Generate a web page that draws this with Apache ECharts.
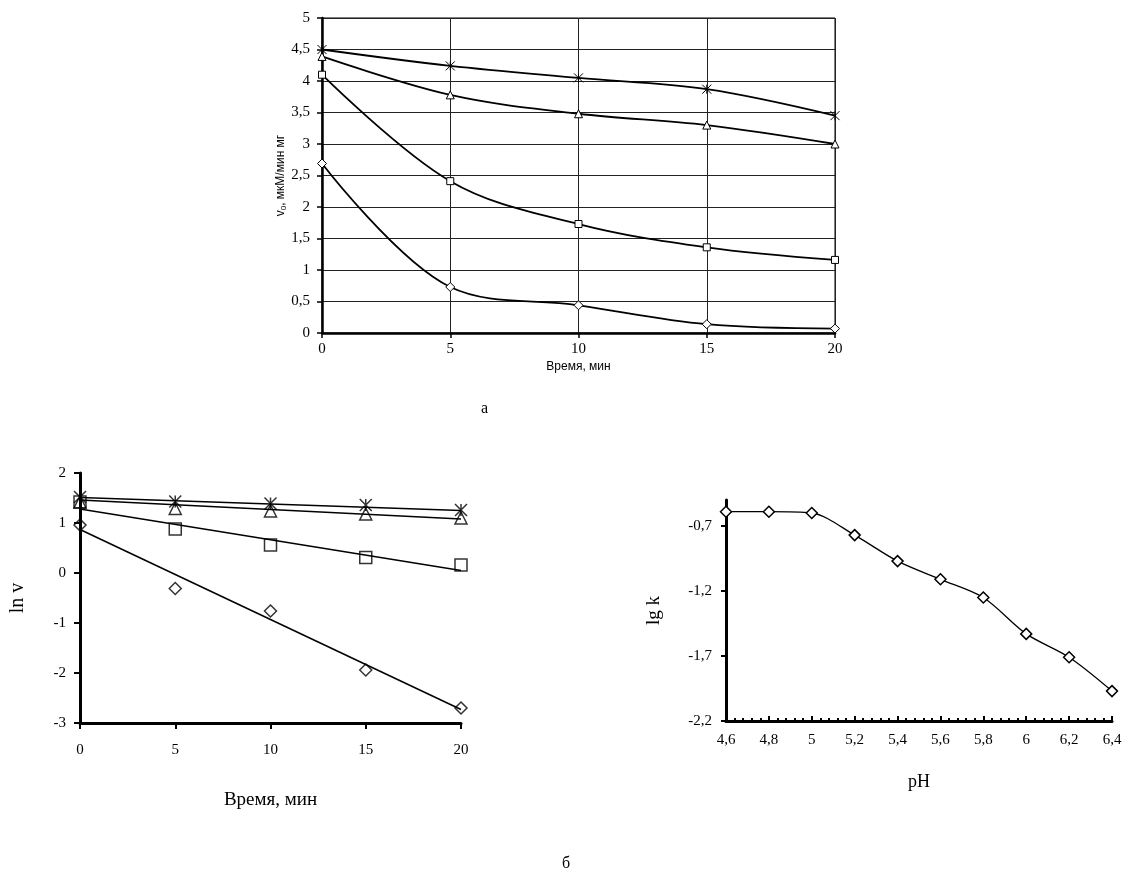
<!DOCTYPE html>
<html>
<head>
<meta charset="utf-8">
<script src="https://cdn.jsdelivr.net/npm/echarts@6/dist/echarts.min.js"></script>
<style>
  html, body { margin: 0; padding: 0; background: #fff; }
  #chart { width: 1127px; height: 875px; }
</style>
</head>
<body>
<div id="chart"></div>
<script>
// время, мин
const timeMin = [0, 5, 10, 15, 20]

// (а) v0 vs time, four curves
const v0Star = [4.5, 4.24, 4.05, 3.87, 3.45]
const v0Tri = [4.39, 3.78, 3.48, 3.3, 3.0]
const v0Sq = [4.1, 2.41, 1.73, 1.36, 1.16]
const v0Dia = [2.69, 0.73, 0.44, 0.14, 0.07]

// (б) ln v points
const lnStar = [1.52, 1.43, 1.39, 1.36, 1.26]
const lnTri = [1.42, 1.29, 1.24, 1.18, 1.1]
const lnSq = [1.42, 0.88, 0.56, 0.31, 0.16]
const lnDia = [0.96, -0.31, -0.76, -1.94, -2.7]
// linear trend lines: value at t=0 and t=20 (star, tri, sq, dia)
const trendStart = [1.51, 1.46, 1.28, 0.87]
const trendEnd = [1.25, 1.08, 0.05, -2.73]

// (б) lg k vs pH
const pH = [4.6, 4.8, 5.0, 5.2, 5.4, 5.6, 5.8, 6.0, 6.2, 6.4]
const lgK = [-0.59, -0.59, -0.6, -0.77, -0.97, -1.11, -1.25, -1.53, -1.71, -1.97]
const lgKTicks = [-2.2, -1.7, -1.2, -0.7]

const SERIF = 'Liberation Serif'
const SANS = 'Liberation Sans'
const STAR = 'path://M0,0L10,10M10,0L0,10M5,0L5,10'

const comma = v => String(Math.round(v * 100) / 100).replace('.', ',')
const pairs = (xs, ys) => xs.map((x, i) => [x, ys[i]])

const tickLabel = { fontFamily: SERIF, fontSize: 15, color: '#000', formatter: comma }

function topLine (data, symbol, size) {
  return {
    type: 'line',
    xAxisIndex: 0,
    yAxisIndex: 0,
    data: pairs(timeMin, data),
    smooth: 0.35,
    symbol,
    symbolSize: size,
    showSymbol: true,
    itemStyle: { color: '#fff', borderColor: '#000', borderWidth: 1 },
    lineStyle: { color: '#000', width: 1.8 },
    z: 3
  }
}

function lnPoints (data, symbol, size) {
  return {
    type: 'scatter',
    xAxisIndex: 1,
    yAxisIndex: 1,
    data: pairs(timeMin, data),
    symbol,
    symbolSize: size,
    itemStyle: { color: 'rgba(255,255,255,0)', borderColor: '#000', borderWidth: 1.5 },
    z: 4
  }
}

function lnTrend (i) {
  return {
    type: 'line',
    xAxisIndex: 1,
    yAxisIndex: 1,
    data: [[timeMin[0], trendStart[i]], [timeMin[timeMin.length - 1], trendEnd[i]]],
    symbol: 'none',
    lineStyle: { color: '#000', width: 1.5 },
    z: 2
  }
}

const option = {
  animation: false,
  backgroundColor: '#fff',
  title: [
    { text: 'а', left: 476, top: 396, textStyle: { fontFamily: SERIF, fontSize: 16, fontWeight: 'normal', color: '#000' } },
    { text: 'б', left: 557, top: 851, textStyle: { fontFamily: SERIF, fontSize: 16, fontWeight: 'normal', color: '#000' } }
  ],
  grid: [
    { left: 322, top: 18, width: 513, height: 315, show: true, borderColor: '#000', borderWidth: 1, backgroundColor: '#fff' },
    { left: 80, top: 473, width: 381, height: 250 },
    { left: 726, top: 500, width: 386, height: 221 }
  ],
  xAxis: [
    {
      gridIndex: 0,
      type: 'value',
      min: 0,
      max: 20,
      interval: 5,
      name: 'Время, мин',
      nameLocation: 'middle',
      nameGap: 28,
      nameTextStyle: { fontFamily: SANS, fontSize: 12, color: '#000' },
      axisLine: { onZero: false, lineStyle: { color: '#000', width: 2.5 } },
      axisTick: { show: true, length: 5, lineStyle: { color: '#000', width: 1.5 } },
      axisLabel: Object.assign({ margin: 9 }, tickLabel),
      splitLine: { show: true, lineStyle: { color: '#222', width: 1 } }
    },
    {
      gridIndex: 1,
      type: 'value',
      min: 0,
      max: 20,
      interval: 5,
      name: 'Время, мин',
      nameLocation: 'middle',
      nameGap: 68,
      nameTextStyle: { fontFamily: SERIF, fontSize: 19, color: '#000' },
      axisLine: { onZero: false, lineStyle: { color: '#000', width: 3 } },
      axisTick: { show: true, length: 6, lineStyle: { color: '#000', width: 2 } },
      axisLabel: Object.assign({ margin: 20 }, tickLabel),
      splitLine: { show: false }
    },
    {
      gridIndex: 2,
      type: 'value',
      min: 4.6,
      max: 6.4,
      interval: 0.2,
      name: 'pH',
      nameLocation: 'middle',
      nameGap: 52,
      nameTextStyle: { fontFamily: SERIF, fontSize: 18, color: '#000' },
      axisLine: { onZero: false, lineStyle: { color: '#000', width: 3 } },
      axisTick: { show: true, inside: true, length: 5, lineStyle: { color: '#000', width: 2 } },
      minorTick: { show: true, splitNumber: 5, length: 3, lineStyle: { color: '#000', width: 2 } },
      axisLabel: Object.assign({ margin: 12 }, tickLabel),
      splitLine: { show: false }
    }
  ],
  yAxis: [
    {
      gridIndex: 0,
      type: 'value',
      min: 0,
      max: 5,
      interval: 0.5,
      name: 'v{sub|0}, мкМ/мин мг',
      nameLocation: 'middle',
      nameGap: 26,
      nameTextStyle: {
        fontFamily: SANS,
        fontSize: 12,
        color: '#000',
        rich: { sub: { fontFamily: SANS, fontSize: 8, verticalAlign: 'bottom', padding: [6, 0, 0, 0] } }
      },
      axisLine: { onZero: false, lineStyle: { color: '#000', width: 2.5 } },
      axisTick: { show: true, length: 5, lineStyle: { color: '#000', width: 1.5 } },
      axisLabel: Object.assign({ margin: 12 }, tickLabel),
      splitLine: { show: true, lineStyle: { color: '#222', width: 1 } }
    },
    {
      gridIndex: 1,
      type: 'value',
      min: -3,
      max: 2,
      interval: 1,
      name: 'ln v',
      nameLocation: 'middle',
      nameGap: 52,
      nameTextStyle: { fontFamily: SERIF, fontSize: 20, color: '#000' },
      axisLine: { onZero: false, lineStyle: { color: '#000', width: 3 } },
      axisTick: { show: true, length: 6, lineStyle: { color: '#000', width: 2 } },
      axisLabel: Object.assign({ margin: 14 }, tickLabel),
      splitLine: { show: false }
    },
    {
      gridIndex: 2,
      type: 'value',
      min: -2.2,
      max: -0.5,
      name: 'lg k',
      nameLocation: 'middle',
      nameGap: 62,
      nameTextStyle: { fontFamily: SERIF, fontSize: 19, color: '#000' },
      axisLine: { onZero: false, lineStyle: { color: '#000', width: 3 } },
      axisTick: { show: true, length: 5, customValues: lgKTicks, lineStyle: { color: '#000', width: 2 } },
      axisLabel: Object.assign({ margin: 14, customValues: lgKTicks }, tickLabel),
      splitLine: { show: false }
    }
  ],
  series: [
    topLine(v0Dia, 'diamond', 9),
    topLine(v0Sq, 'rect', 7),
    topLine(v0Tri, 'triangle', 8),
    topLine(v0Star, STAR, 9),

    lnTrend(0),
    lnTrend(1),
    lnTrend(2),
    lnTrend(3),
    lnPoints(lnDia, 'diamond', 12),
    lnPoints(lnSq, 'rect', 12),
    lnPoints(lnTri, 'triangle', 12),
    lnPoints(lnStar, STAR, 12),

    {
      type: 'line',
      xAxisIndex: 2,
      yAxisIndex: 2,
      data: pairs(pH, lgK),
      smooth: 0.3,
      symbol: 'diamond',
      symbolSize: 11,
      itemStyle: { color: '#fff', borderColor: '#000', borderWidth: 1.5 },
      lineStyle: { color: '#000', width: 1.3 },
      z: 3
    }
  ]
}

const myChart = echarts.init(document.getElementById('chart'))
myChart.setOption(option)
</script>
</body>
</html>
